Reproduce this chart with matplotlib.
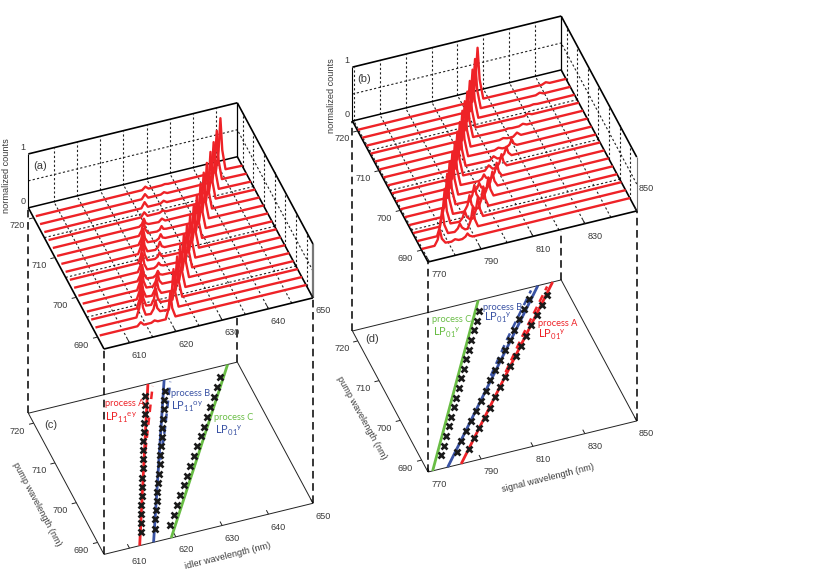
import matplotlib
matplotlib.use('Agg')
import matplotlib.pyplot as plt
from mpl_toolkits.mplot3d import proj3d

plt.rcParams['font.family'] = ['Liberation Sans', 'DejaVu Sans']
plt.rcParams['mathtext.default'] = 'regular'

RED = '#ee2227'
BLUE = '#3a53a4'
GREEN = '#69bd45'
TEXT = '#3a3a3a'

# pump wavelength of every measured spectrum (nm)
pump = [690, 692, 694, 696, 698, 700, 702, 704, 706, 708, 710, 712, 714, 716, 718, 720]

# spectra of panel (a)
idler_wl = [
    [605.2, 613.1, 613.8, 614.5, 616.1, 616.8, 617.5, 619.2, 619.8, 620.2, 620.6, 621.3, 649.3],
    [605.2, 613.8, 614.4, 614.8, 615.2, 615.8, 616.9, 617.5, 617.9, 618.3, 618.9, 620.8, 621.4, 621.8, 622.2, 622.9, 649.3],
    [605.2, 614.8, 615.4, 615.8, 616.2, 616.8, 617.9, 618.5, 618.9, 619.3, 619.9, 622.5, 623.1, 623.5, 623.9, 624.6, 649.3],
    [605.2, 615.7, 616.3, 616.7, 617.1, 617.7, 619.0, 619.6, 620.0, 620.4, 621.0, 624.1, 624.7, 625.1, 625.5, 626.2, 649.3],
    [605.2, 616.7, 617.3, 617.7, 618.1, 618.7, 620.1, 620.7, 621.1, 621.5, 622.1, 625.8, 626.4, 626.8, 627.2, 627.9, 649.3],
    [605.2, 617.7, 618.3, 618.7, 619.1, 619.7, 621.1, 621.7, 622.1, 622.5, 623.1, 627.4, 628.0, 628.4, 628.8, 629.5, 649.3],
    [605.2, 618.7, 619.3, 619.7, 620.1, 620.7, 622.2, 622.8, 623.2, 623.6, 624.2, 629.0, 629.6, 630.0, 630.4, 631.1, 649.3],
    [605.2, 619.7, 620.3, 620.7, 621.1, 621.7, 623.3, 623.9, 624.3, 624.7, 625.3, 630.7, 631.3, 631.7, 632.1, 632.8, 649.3],
    [605.2, 620.6, 621.2, 621.6, 622.0, 622.6, 624.3, 624.9, 625.3, 625.7, 626.3, 632.3, 632.9, 633.3, 633.7, 634.4, 649.3],
    [605.2, 621.6, 622.2, 622.6, 623.0, 623.6, 625.4, 626.0, 626.4, 626.8, 627.4, 634.0, 634.6, 635.0, 635.4, 636.1, 649.3],
    [605.2, 622.6, 623.2, 623.6, 624.0, 624.6, 626.5, 627.1, 627.5, 627.9, 628.5, 635.6, 636.2, 636.6, 637.0, 637.7, 649.3],
    [605.2, 623.6, 624.2, 624.6, 625.0, 625.6, 627.8, 628.5, 629.2, 637.2, 637.8, 638.2, 638.6, 639.3, 649.3],
    [605.2, 624.9, 625.6, 626.3, 628.9, 629.6, 630.3, 638.9, 639.5, 639.9, 640.3, 641.0, 649.3],
    [605.2, 625.9, 626.6, 627.3, 630.0, 630.7, 631.4, 640.5, 641.1, 641.5, 641.9, 642.6, 649.3],
    [605.2, 626.9, 627.6, 628.3, 631.0, 631.7, 632.4, 642.1, 642.7, 643.1, 643.5, 644.2, 649.3],
    [605.2, 627.9, 628.6, 629.3, 632.1, 632.8, 633.5, 643.8, 644.4, 644.8, 645.2, 645.9, 649.3],
]
idler_counts = [
    [.02, .02, .08, .02, .02, .05, .02, .02, .20, .50, .20, .03, .02],
    [.02, .02, .18, .45, .18, .03, .02, .10, .25, .10, .03, .02, .30, .75, .30, .03, .02],
    [.02, .02, .18, .45, .18, .03, .02, .12, .30, .12, .03, .02, .32, .80, .32, .03, .02],
    [.02, .02, .16, .40, .16, .03, .02, .12, .30, .12, .03, .02, .33, .82, .33, .03, .02],
    [.02, .02, .16, .40, .16, .03, .02, .10, .25, .10, .03, .02, .34, .85, .34, .03, .02],
    [.02, .02, .12, .30, .12, .03, .02, .05, .12, .05, .03, .02, .34, .85, .34, .03, .02],
    [.02, .02, .14, .35, .14, .03, .02, .05, .10, .05, .03, .02, .34, .85, .34, .03, .02],
    [.02, .02, .15, .38, .15, .03, .02, .05, .12, .05, .03, .02, .34, .85, .34, .03, .02],
    [.02, .02, .15, .38, .15, .03, .02, .06, .15, .06, .03, .02, .34, .85, .34, .03, .02],
    [.02, .02, .12, .30, .12, .03, .02, .05, .12, .05, .03, .02, .35, .88, .35, .03, .02],
    [.02, .02, .11, .28, .11, .03, .02, .04, .10, .04, .03, .02, .36, .90, .36, .03, .02],
    [.02, .02, .06, .15, .06, .03, .02, .07, .02, .02, .36, .90, .36, .03, .02],
    [.02, .02, .10, .02, .02, .05, .02, .02, .37, .92, .37, .03, .02],
    [.02, .02, .12, .02, .02, .06, .02, .02, .37, .92, .37, .03, .02],
    [.02, .02, .10, .02, .02, .05, .02, .02, .38, .95, .38, .03, .02],
    [.02, .02, .07, .02, .02, .03, .02, .02, .40, 1.0, .40, .03, .02],
]

# spectra of panel (b)
signal_wl = [
    [770, 774.5, 775.7, 776.5, 777.3, 778.7, 781.0, 782.4, 783.8, 785.2, 786.4, 787.2, 788.0, 789.2, 849.4],
    [770, 777.1, 778.3, 779.1, 779.9, 781.3, 783.9, 785.1, 785.9, 786.7, 787.9, 788.9, 790.1, 790.9, 791.7, 792.9, 849.4],
    [770, 779.7, 780.9, 781.7, 782.5, 783.9, 787.4, 788.6, 789.4, 790.2, 791.4, 792.5, 793.7, 794.5, 795.3, 796.5, 849.4],
    [770, 782.3, 783.5, 784.3, 785.1, 786.5, 790.9, 792.1, 792.9, 793.7, 794.9, 796.2, 797.4, 798.2, 799.0, 800.2, 849.4],
    [770, 784.9, 786.1, 786.9, 787.7, 789.1, 794.4, 795.6, 796.4, 797.2, 798.4, 799.8, 801.0, 801.8, 802.6, 803.8, 849.4],
    [770, 787.6, 788.8, 789.6, 790.4, 791.8, 797.9, 799.1, 799.9, 800.7, 801.9, 803.0, 804.2, 805.0, 805.8, 807.0, 849.4],
    [770, 790.2, 791.4, 792.2, 793.0, 794.4, 801.4, 802.6, 803.4, 804.2, 805.4, 806.3, 807.5, 808.3, 809.1, 810.3, 849.4],
    [770, 792.8, 794.0, 794.8, 795.6, 797.0, 805.4, 806.9, 808.4, 809.8, 811.0, 811.8, 812.6, 813.8, 849.4],
    [770, 795.4, 796.6, 797.4, 798.2, 799.6, 808.9, 810.4, 811.9, 813.3, 814.5, 815.3, 816.1, 817.3, 849.4],
    [770, 798.0, 799.2, 800.0, 800.8, 802.2, 812.4, 813.9, 815.4, 817.0, 818.2, 819.0, 819.8, 821.0, 849.4],
    [770, 800.6, 801.8, 802.6, 803.4, 804.8, 815.9, 817.4, 818.9, 821.2, 822.7, 824.2, 849.4],
    [770, 803.2, 804.4, 805.2, 806.0, 807.4, 819.4, 820.9, 822.4, 825.1, 826.6, 828.1, 849.4],
    [770, 805.8, 807.0, 807.8, 808.6, 810.0, 828.7, 830.2, 831.7, 849.4],
    [770, 808.5, 809.7, 810.5, 811.3, 812.7, 832.5, 834.0, 835.5, 849.4],
    [770, 811.1, 812.3, 813.1, 813.9, 815.3, 836.5, 838.0, 839.5, 849.4],
    [770, 813.7, 814.9, 815.7, 816.5, 817.9, 840.5, 842.0, 843.5, 849.4],
]
signal_counts = [
    [.02, .02, .12, .30, .12, .03, .02, .05, .02, .02, .05, .10, .05, .02, .02],
    [.02, .02, .20, .50, .20, .03, .02, .07, .15, .07, .02, .02, .16, .40, .16, .02, .02],
    [.02, .02, .28, .70, .28, .03, .02, .08, .20, .08, .02, .02, .16, .40, .16, .02, .02],
    [.02, .02, .32, .80, .32, .03, .02, .12, .30, .12, .02, .02, .16, .40, .16, .02, .02],
    [.02, .02, .34, .85, .34, .03, .02, .12, .30, .12, .02, .02, .15, .38, .15, .02, .02],
    [.02, .02, .34, .85, .34, .03, .02, .06, .15, .06, .02, .02, .12, .30, .12, .02, .02],
    [.02, .02, .34, .85, .34, .03, .02, .05, .12, .05, .02, .02, .11, .28, .11, .02, .02],
    [.02, .02, .35, .87, .35, .03, .02, .10, .02, .02, .10, .25, .10, .02, .02],
    [.02, .02, .35, .87, .35, .03, .02, .08, .02, .02, .08, .20, .08, .02, .02],
    [.02, .02, .36, .90, .36, .03, .02, .05, .02, .02, .06, .15, .06, .02, .02],
    [.02, .02, .36, .90, .36, .03, .02, .04, .02, .02, .08, .02, .02],
    [.02, .02, .36, .90, .36, .03, .02, .03, .02, .02, .05, .02, .02],
    [.02, .02, .37, .92, .37, .03, .02, .05, .02, .02],
    [.02, .02, .38, .95, .38, .03, .02, .03, .02, .02],
    [.02, .02, .39, .97, .39, .03, .02, .05, .02, .02],
    [.02, .02, .40, 1.0, .40, .03, .02, .05, .02, .02],
]

# measured peak positions, the black crosses of (c) and (d)
idler_a = [613.8, 614.8, 615.8, 616.7, 617.7, 618.7, 619.7, 620.7, 621.6, 622.6, 623.6, 624.6, 625.6, 626.6, 627.6, 628.6]
idler_b = [616.8, 617.9, 618.9, 620.0, 621.1, 622.1, 623.2, 624.3, 625.3, 626.4, 627.5, 628.5, 629.6, 630.7, 631.7, 632.8]
idler_c = [620.2, 621.8, 623.5, 625.1, 626.8, 628.4, 630.0, 631.7, 633.3, 635.0, 636.6, 638.2, 639.9, 641.5, 643.1, 644.8]
signal_a = [787.7, 791.4, 795.0, 798.7, 802.3, 806.0, 809.6, 813.3, 816.9, 820.6, 824.2, 827.9, 831.5, 835.2, 838.8, 842.5]
signal_b = [783.0, 786.5, 790.0, 793.5, 797.0, 800.5, 804.0, 807.5, 811.0, 814.5, 818.0, 821.5, 825.0, 828.5, 832.0, 835.6]
signal_c = [777.1, 779.7, 782.3, 784.9, 787.5, 790.2, 792.8, 795.4, 798.0, 800.6, 803.2, 805.8, 808.4, 811.1, 813.7, 816.3]

# calculated curves of (c) and (d)
line_pump = [687, 722.5]
idler_line_a = [612.2, 630.3]
idler_line_b = [615.2, 633.8]
idler_line_c = [619.0, 647.5]
signal_line_a = [782.3, 846.7]
signal_line_b = [777.1, 841.0]
signal_line_c = [771.3, 818.0]

dash_pump = [705, 712, 721.8]
idler_dash_a = [621.4, 625.4, 631.0]
idler_dash_b = [625.0, 629.2, 634.8]
signal_dash_a = [814.2, 826.3, 844.0]
signal_dash_b = [808.5, 820.3, 837.8]

pump_ticks = [690, 700, 710, 720]
pump_grid = [690, 695, 700, 705, 710, 715, 720]
pump_floor_grid = [695, 705, 715]
idler_grid = [610, 615, 620, 625, 630, 635, 640, 645]
idler_ticks = [610, 620, 630, 640, 649.6]
idler_tick_labels = ['610', '620', '630', '640', '650']
signal_grid = [770, 780, 790, 800, 810, 820, 830, 840]
signal_ticks = [770, 790, 810, 830, 850]
signal_tick_labels = ['770', '790', '810', '830', '850']


def to_px(ax, x, y, z):
    ax.apply_aspect()
    sx, sy, _ = proj3d.proj_transform(x, y, z, ax.get_proj())
    return ax.transData.transform((sx, sy))


def line(ax, xs, ys, zs, **kw):
    kw.setdefault('color', 'k')
    kw.setdefault('lw', 1.0)
    ax.plot(xs, ys, zs, solid_capstyle='butt', clip_on=False, **kw)


def make_axes(xlim, lower, front_left, front_right):
    ax = fig.add_axes([0, 0, 600 / 817, 600 / 572], projection='3d', proj_type='ortho', computed_zorder=False)
    ax.set_xlim(xlim, view_margin=0)
    ax.set_ylim(687, 722.5, view_margin=0)
    ax.set_zlim(-4, 1, view_margin=0)
    ax.set_box_aspect((1, 1, 1.645))
    ax.view_init(elev=42.5, azim=-109.9)
    ax.set_axis_off()
    ax.patch.set_visible(False)

    # place the box so the corners of the upper floor land where they are in the picture
    p0 = to_px(ax, xlim[0], 687, 0)
    p1 = to_px(ax, xlim[1], 687, 0)
    want = ((front_right[0] - front_left[0]) ** 2 + (front_right[1] - front_left[1]) ** 2) ** 0.5
    have = ((p1[0] - p0[0]) ** 2 + (p1[1] - p0[1]) ** 2) ** 0.5
    size = 600 * want / have
    ax.set_position([0, 0, size / 817, size / 572])
    p0 = to_px(ax, xlim[0], 687, 0)
    left = front_left[0] - p0[0]
    bottom = (572 - front_left[1]) - p0[1]
    ax.set_position([left / 817, bottom / 572, size / 817, size / 572])
    return ax


def label3d(ax, x, y, z, s, **kw):
    # the texts sit on the figure, at the point the 3d axes projects them to
    px = to_px(ax, x, y, z)
    kw.setdefault('fontsize', 6.6)
    kw.setdefault('color', TEXT)
    fig.text(px[0] / 817, px[1] / 572, s, ha='center', va='center', **kw)


def draw_upper(ax, xlim, xgrid, wl, counts, thin_corner):
    x0, x1 = xlim
    y0, y1 = 687, 722.5
    fine = dict(lw=0.8, dashes=(2, 2), color='#222222')
    for g in xgrid:
        line(ax, [g, g], [y0, y1], [0, 0], **fine)
        line(ax, [g, g], [y1, y1], [0, 1], **fine)
    for p in pump_floor_grid:
        line(ax, [x0, x1], [p, p], [0, 0], **fine)
    for p in pump_grid:
        line(ax, [x1, x1], [p, p], [0, 1], **fine)
    line(ax, [x0, x1], [y1, y1], [0.5, 0.5], **fine)
    line(ax, [x1, x1], [y0, y1], [0.5, 0.5], **fine)

    # box
    line(ax, [x0, x0], [y1, y1], [0, 1], lw=0.8)
    line(ax, [x1, x1], [y1, y1], [0, 1], lw=0.9)
    line(ax, [x1, x1], [y0, y0], [0, 1], color='#777777', lw=0.8 if thin_corner else 1.6)
    line(ax, [x0, x1], [y1, y1], [1, 1], lw=1.2)
    line(ax, [x1, x1], [y0, y1], [1, 1], lw=1.2)
    line(ax, [x0, x1], [y1, y1], [0, 0], lw=1.1)
    line(ax, [x1, x1], [y0, y1], [0, 0], lw=1.2)
    line(ax, [x0, x1], [y0, y0], [0, 0], lw=1.2)
    line(ax, [x0, x0], [y0, y1], [0, 0], lw=1.2)

    # spectra, back to front
    for i in range(len(pump) - 1, -1, -1):
        ax.plot(wl[i], [pump[i]] * len(wl[i]), counts[i], color=RED, lw=1.7, solid_joinstyle='round', zorder=3, clip_on=False)


def draw_lower(ax, xlim, z):
    x0, x1 = xlim
    y0, y1 = 687, 722.5
    line(ax, [x0, x1, x1, x0, x0], [y0, y0, y1, y1, y0], [z] * 5, lw=0.7, color='#222222')


def draw_ticks(ax, xlim, xticks, xlabels, z, raise_last=0):
    x0, x1 = xlim
    y0 = 687
    span = x1 - x0
    for t, s in zip(xticks, xlabels):
        line(ax, [t, t], [y0, y0 + 1], [z, z], lw=0.7, color='#222222')
        dz = raise_last if t == xticks[-1] else 0
        label3d(ax, t + 0.013 * span, y0 - 3.4, z + dz, s)
    for p in pump_ticks:
        line(ax, [x0, x0 - 0.022 * span], [p, p], [z, z], lw=0.7, color='#222222')
        label3d(ax, x0 - 0.086 * span, p - 0.9, z, str(p))


def connectors(ax, xlim, z):
    x0, x1 = xlim
    y0, y1 = 687, 722.5
    dash = dict(lw=1.1, dashes=(5, 3), color='k')
    line(ax, [x0, x0], [y1, y1], [z, 0], **dash)
    line(ax, [x0, x0], [y0, y0], [z, 0], **dash)
    line(ax, [x1, x1], [y0, y0], [z, 0], **dash)
    line(ax, [x1, x1], [y1, y1], [z, -3], **dash)


def draw_curves(ax, z, solid, dashed, crosses):
    for xs, c in solid:
        ax.plot(xs, line_pump, [z, z], color=c, lw=2.0, solid_capstyle='butt', zorder=4, clip_on=False)
    for xs, c in dashed:
        ax.plot(xs, dash_pump, [z] * len(dash_pump), color=c, lw=1.8, dashes=(3, 2.2), zorder=4, clip_on=False)
    for xs in crosses:
        ax.plot(xs, pump, [z] * len(pump), ls='none', marker='x', ms=4.3, mew=1.9, color='#1a1a1a', zorder=5, clip_on=False)


def fig_text(x, y, s, **kw):
    kw.setdefault('fontsize', 6.6)
    kw.setdefault('color', TEXT)
    kw.setdefault('va', 'center')
    fig.text(x / 817, 1 - y / 572, s, **kw)


fig = plt.figure(figsize=(8.17, 5.72), dpi=100)

# left pair of panels
idler_lim = (604.5, 649.6)
z_c = -3.81
ax1 = make_axes(idler_lim, z_c, (104, 349), (313, 298))
draw_upper(ax1, idler_lim, idler_grid, idler_wl, idler_counts, False)
draw_ticks(ax1, idler_lim, idler_ticks, idler_tick_labels, 0)
draw_lower(ax1, idler_lim, z_c)
draw_ticks(ax1, idler_lim, idler_ticks, idler_tick_labels, z_c)
connectors(ax1, idler_lim, z_c)
draw_curves(ax1, z_c,
            [(idler_line_a, RED), (idler_line_b, BLUE), (idler_line_c, GREEN)],
            [(idler_dash_a, RED), (idler_dash_b, BLUE)],
            [idler_a, idler_b, idler_c])

# right pair of panels
signal_lim = (769.5, 850)
z_d = -3.9
ax2 = make_axes(signal_lim, z_d, (428, 262), (637, 212))
draw_upper(ax2, signal_lim, signal_grid, signal_wl, signal_counts, True)
draw_ticks(ax2, signal_lim, signal_ticks, signal_tick_labels, 0, raise_last=0.65)
draw_lower(ax2, signal_lim, z_d)
draw_ticks(ax2, signal_lim, signal_ticks, signal_tick_labels, z_d)
connectors(ax2, signal_lim, z_d)
draw_curves(ax2, z_d,
            [(signal_line_a, RED), (signal_line_b, BLUE), (signal_line_c, GREEN)],
            [(signal_dash_a, RED), (signal_dash_b, BLUE)],
            [signal_a, signal_b, signal_c])

# z ticks
for ax, lim in ((ax1, idler_lim), (ax2, signal_lim)):
    label3d(ax, lim[0] - 1.2 * (lim[1] - lim[0]) / 45, 722.5, 0.15, '0')
    label3d(ax, lim[0] - 1.2 * (lim[1] - lim[0]) / 45, 722.5, 1.15, '1')

# labels
fig_text(7, 176, 'normalized counts', rotation=90, ha='center')
fig_text(331, 96, 'normalized counts', rotation=90, ha='center')
fig_text(40, 166, '(a)', fontsize=8, ha='center')
fig_text(364, 79, '(b)', fontsize=8, ha='center')
fig_text(51, 425, '(c)', fontsize=8, ha='center')
fig_text(372, 339, '(d)', fontsize=8, ha='center')
fig_text(37, 504, 'pump wavelength (nm)', rotation=-62, ha='center', rotation_mode='anchor')
fig_text(362, 418, 'pump wavelength (nm)', rotation=-61, ha='center', rotation_mode='anchor')
fig_text(228, 556, 'idler wavelength (nm)', rotation=14, ha='center', rotation_mode='anchor')
fig_text(548, 478, 'signal wavelength (nm)', rotation=14, ha='center', rotation_mode='anchor')

# process labels
proc = dict(family=['Lato', 'DejaVu Sans'], fontsize=6.7)
lp = dict(family=['Lato', 'DejaVu Sans'], fontsize=8)
fig_text(105, 404, 'process A', color=RED, **proc)
fig_text(105, 418, r'LP$_{11}{}^{ey}$', color=RED, **lp)
fig_text(171, 394, 'process B', color=BLUE, **proc)
fig_text(171, 407, r'LP$_{11}{}^{oy}$', color=BLUE, **lp)
fig_text(214, 418, 'process C', color=GREEN, **proc)
fig_text(215, 431, r'LP$_{01}{}^{y}$', color=BLUE, **lp)
fig_text(432, 320, 'process C', color=GREEN, **proc)
fig_text(433, 333, r'LP$_{01}{}^{y}$', color=GREEN, **lp)
fig_text(483, 307, 'process B', color=BLUE, **proc)
fig_text(484, 318, r'LP$_{01}{}^{y}$', color=BLUE, **lp)
fig_text(538, 323, 'process A', color=RED, **proc)
fig_text(538, 335, r'LP$_{01}{}^{y}$', color=RED, **lp)

fig.savefig('out.png', dpi=100)
